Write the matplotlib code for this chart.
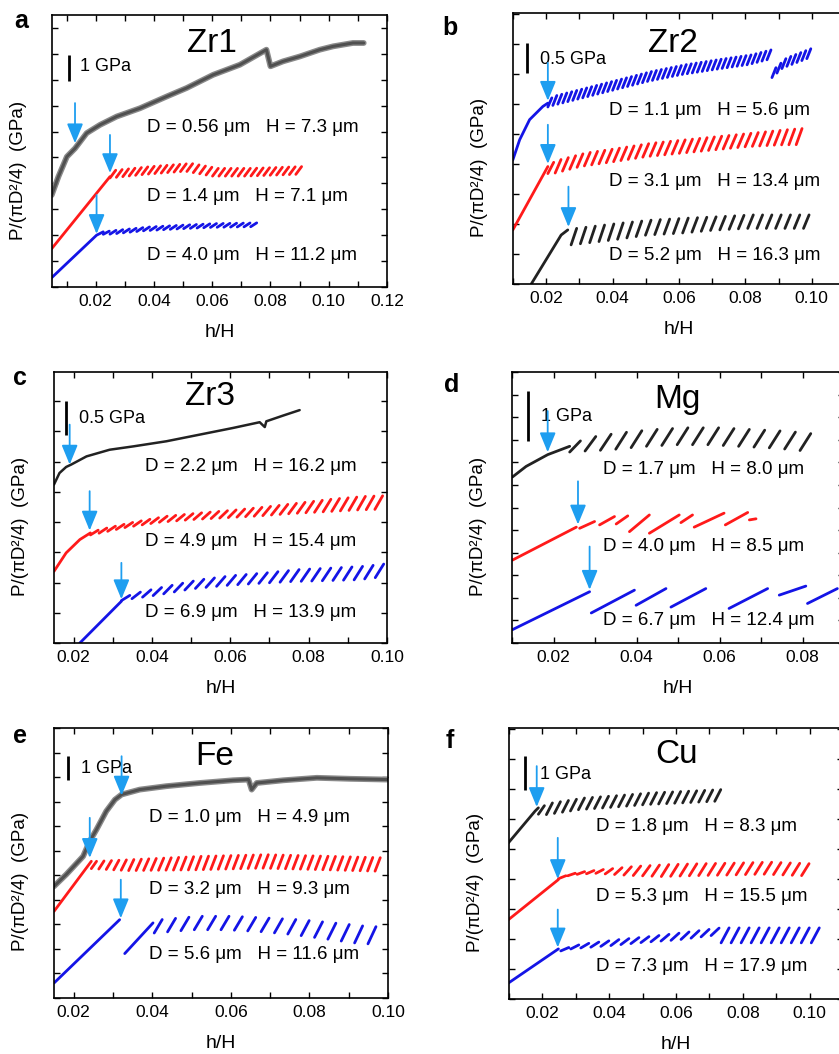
import numpy as np
import matplotlib
matplotlib.use("Agg")
import matplotlib.pyplot as plt
from matplotlib import transforms
from matplotlib.ticker import MultipleLocator, FormatStrFormatter

plt.rcParams['font.family'] = ['Liberation Sans', 'DejaVu Sans']

# x = h/H ; y = P/(pi D^2/4) with an arbitrary offset, in units of one y tick
# ---------------- a: Zr1 ----------------
zr1_k_x = [0.0049, 0.0072, 0.0101, 0.0129, 0.0169, 0.0215, 0.0272, 0.0352, 0.0443, 0.0512,
           0.0603, 0.0695, 0.0786, 0.0800, 0.0843, 0.0901, 0.0969, 0.1015, 0.1083, 0.1120]
zr1_k_y = [3.55, 4.26, 5.03, 5.35, 5.94, 6.26, 6.58, 6.90, 7.35, 7.68,
           8.19, 8.58, 9.16, 8.52, 8.71, 8.90, 9.16, 9.29, 9.42, 9.42]
zr1_r_el_x = [0.0049, 0.0249]
zr1_r_el_y = [1.48, 4.26]
zr1_r_env_x = [0.0249, 0.0262, 0.0390, 0.0528, 0.0620, 0.0734, 0.0912]
zr1_r_env_y = [4.32, 4.50, 4.65, 4.77, 4.58, 4.58, 4.65]
zr1_r_amp = [0.10, 0.30, 0.30, 0.30, 0.30, 0.30, 0.30]
zr1_b_el_x = [0.0049, 0.0203, 0.0226]
zr1_b_el_y = [0.36, 2.00, 2.13]
zr1_b_env_x = [0.0226, 0.0272, 0.0386, 0.0500, 0.0615, 0.0775]
zr1_b_env_y = [2.13, 2.19, 2.32, 2.39, 2.45, 2.48]
zr1_b_amp = [0.10, 0.15, 0.15, 0.15, 0.15, 0.15]
zr1_arrows = [(0.0129, 5.55, 7.10), (0.0249, 4.40, 5.87), (0.0203, 2.05, 3.55)]
zr1_labels = ["D = 0.56 μm   H = 7.3 μm", "D = 1.4 μm   H = 7.1 μm", "D = 4.0 μm   H = 11.2 μm"]

# ---------------- b: Zr2 ----------------
zr2_b_el_x = [0.00995, 0.0120, 0.0150, 0.0190, 0.0205]
zr2_b_el_y = [4.13, 4.80, 5.47, 5.91, 6.02]
zr2_b_env_x = [0.0205, 0.0220, 0.0320, 0.0420, 0.0520, 0.0620, 0.0720, 0.0820, 0.0880, 0.0885, 0.0924, 0.1004]
zr2_b_env_y = [6.02, 6.24, 6.52, 6.80, 7.08, 7.30, 7.47, 7.63, 7.80, 7.13, 7.52, 7.86]
zr2_b_amp = [0.20, 0.33, 0.33, 0.33, 0.33, 0.33, 0.33, 0.33, 0.33, 0.33, 0.33, 0.33]
zr2_r_el_x = [0.00995, 0.0205]
zr2_r_el_y = [1.80, 3.91]
zr2_r_env_x = [0.0205, 0.0240, 0.0320, 0.0420, 0.0520, 0.0620, 0.0720, 0.0820, 0.0920, 0.0989]
zr2_r_env_y = [3.97, 4.13, 4.36, 4.52, 4.69, 4.80, 4.91, 5.02, 5.13, 5.19]
zr2_r_amp = [0.30, 0.45, 0.45, 0.45, 0.45, 0.45, 0.45, 0.45, 0.50, 0.55]
zr2_k_el_x = [0.0155, 0.0245, 0.0265]
zr2_k_el_y = [0.00, 1.63, 1.80]
zr2_k_env_x = [0.0275, 0.0290, 0.0420, 0.0520, 0.0620, 0.0720, 0.0820, 0.0920, 0.1004]
zr2_k_env_y = [1.80, 1.85, 2.02, 2.13, 2.19, 2.24, 2.30, 2.30, 2.30]
zr2_k_amp = [0.50, 0.55, 0.55, 0.50, 0.50, 0.45, 0.45, 0.45, 0.45]
zr2_arrows = [(0.0205, 6.10, 7.36), (0.0205, 4.00, 5.30), (0.0267, 1.90, 3.24)]
zr2_labels = ["D = 1.1 μm   H = 5.6 μm", "D = 3.1 μm   H = 13.4 μm", "D = 5.2 μm   H = 16.3 μm"]

# ---------------- c: Zr3 ----------------
zr3_k_x = [0.0150, 0.0164, 0.0181, 0.0194, 0.0233, 0.0292, 0.0352, 0.0437, 0.0522, 0.0607,
           0.0675, 0.0688, 0.0692, 0.0735, 0.0777]
zr3_k_y = [5.24, 5.62, 5.82, 5.90, 6.17, 6.39, 6.50, 6.67, 6.89, 7.11,
           7.30, 7.14, 7.33, 7.52, 7.70]
zr3_r_el_x = [0.0150, 0.0181, 0.0216, 0.0243]
zr3_r_el_y = [2.37, 2.98, 3.42, 3.64]
zr3_r_env_x = [0.0243, 0.0267, 0.0352, 0.0437, 0.0522, 0.0607, 0.0692, 0.0777, 0.0862, 0.0947, 0.0998]
zr3_r_env_y = [3.64, 3.75, 3.99, 4.19, 4.30, 4.39, 4.50, 4.63, 4.76, 4.85, 4.87]
zr3_r_amp = [0.10, 0.17, 0.17, 0.20, 0.22, 0.25, 0.30, 0.35, 0.42, 0.45, 0.45]
zr3_b_el_x = [0.0216, 0.0322]
zr3_b_el_y = [0.00, 1.38]
zr3_b_env_x = [0.0322, 0.0352, 0.0437, 0.0522, 0.0607, 0.0692, 0.0777, 0.0862, 0.0947, 0.0998]
zr3_b_env_y = [1.43, 1.63, 1.87, 2.09, 2.23, 2.32, 2.43, 2.48, 2.54, 2.62]
zr3_b_amp = [0.10, 0.20, 0.28, 0.30, 0.33, 0.35, 0.40, 0.42, 0.45, 0.45]
zr3_arrows = [(0.0190, 5.90, 7.22), (0.0241, 3.72, 5.02), (0.0322, 1.45, 2.65)]
zr3_labels = ["D = 2.2 μm   H = 16.2 μm", "D = 4.9 μm   H = 15.4 μm", "D = 6.9 μm   H = 13.9 μm"]

# ---------------- d: Mg ----------------
mg_k_el_x = [0.0101, 0.0134, 0.0186, 0.0239]
mg_k_el_y = [7.35, 7.82, 8.34, 8.71]
mg_k_env_x = [0.0239, 0.0279, 0.0359, 0.0440, 0.0520, 0.0600, 0.0680, 0.0760, 0.0844]
mg_k_env_y = [8.71, 9.08, 9.30, 9.45, 9.53, 9.53, 9.45, 9.38, 9.23]
mg_k_amp = [0.30, 0.60, 0.75, 0.75, 0.75, 0.75, 0.75, 0.75, 0.75]
mg_r_el_x = [0.0101, 0.0255]
mg_r_el_y = [3.67, 5.13]
mg_r_x0 = [0.0263, 0.0311, 0.0351, 0.0383, 0.0431, 0.0507, 0.0539, 0.0614, 0.0672]
mg_r_x1 = [0.0299, 0.0347, 0.0379, 0.0431, 0.0503, 0.0535, 0.0611, 0.0668, 0.0688]
mg_r_y0 = [5.08, 5.23, 5.27, 4.93, 4.86, 5.33, 5.13, 5.23, 5.45]
mg_r_y1 = [5.38, 5.60, 5.63, 5.67, 5.67, 5.67, 5.75, 5.78, 5.50]
mg_b_el_x = [0.0101, 0.0287]
mg_b_el_y = [0.59, 2.27]
mg_b_x0 = [0.0291, 0.0399, 0.0483, 0.0623, 0.0744, 0.0812]
mg_b_x1 = [0.0395, 0.0471, 0.0567, 0.0716, 0.0808, 0.0884]
mg_b_y0 = [1.33, 1.67, 1.59, 1.53, 2.12, 1.75]
mg_b_y1 = [2.34, 2.41, 2.41, 2.41, 2.52, 2.41]
mg_arrows = [(0.0186, 8.45, 10.27), (0.0259, 5.25, 7.16), (0.0287, 2.36, 4.27)]
mg_labels = ["D = 1.7 μm   H = 8.0 μm", "D = 4.0 μm   H = 8.5 μm", "D = 6.7 μm   H = 12.4 μm"]

# ---------------- e: Fe ----------------
fe_k_x = [0.0150, 0.0181, 0.0224, 0.0241, 0.0258, 0.0283, 0.0305, 0.0322, 0.0368, 0.0436,
          0.0521, 0.0606, 0.0645, 0.0653, 0.0666, 0.0734, 0.0819, 0.0904, 0.0997]
fe_k_y = [4.55, 5.03, 5.77, 6.39, 6.86, 7.61, 8.08, 8.29, 8.49, 8.63,
          8.76, 8.87, 8.90, 8.49, 8.76, 8.87, 8.97, 8.93, 8.90]
fe_r_el_x = [0.0150, 0.0245]
fe_r_el_y = [3.53, 5.57]
fe_r_env_x = [0.0245, 0.0258, 0.0351, 0.0521, 0.0691, 0.0861, 0.0997]
fe_r_env_y = [5.60, 5.57, 5.64, 5.77, 5.84, 5.77, 5.71]
fe_r_amp = [0.20, 0.30, 0.45, 0.55, 0.55, 0.55, 0.55]
fe_b_el_x = [0.0150, 0.0317]
fe_b_el_y = [0.61, 3.19]
fe_b_d1_x = [0.0330, 0.0402]
fe_b_d1_y = [1.81, 3.06]
fe_b_env_x = [0.0405, 0.0420, 0.0521, 0.0606, 0.0691, 0.0776, 0.0861, 0.0946, 0.0997]
fe_b_env_y = [3.10, 3.19, 3.33, 3.33, 3.26, 3.19, 3.06, 2.92, 2.89]
fe_b_amp = [0.40, 0.55, 0.55, 0.55, 0.55, 0.60, 0.65, 0.70, 0.70]
fe_arrows = [(0.0322, 8.25, 9.85), (0.0241, 5.71, 7.34), (0.0320, 3.25, 4.82)]
fe_labels = ["D = 1.0 μm   H = 4.9 μm", "D = 3.2 μm   H = 9.3 μm", "D = 5.6 μm   H = 11.6 μm"]

# ---------------- f: Cu ----------------
cu_k_el_x = [0.0098, 0.0178, 0.0188]
cu_k_el_y = [5.20, 6.26, 6.37]
cu_k_env_x = [0.0188, 0.0228, 0.0328, 0.0429, 0.0529, 0.0629, 0.0739]
cu_k_env_y = [6.37, 6.53, 6.70, 6.78, 6.87, 6.92, 6.98]
cu_k_amp = [0.20, 0.39, 0.39, 0.39, 0.39, 0.39, 0.39]
cu_r_el_x = [0.0098, 0.0248]
cu_r_el_y = [2.64, 3.98]
cu_r_env_x = [0.0248, 0.0268, 0.0308, 0.0378, 0.0479, 0.0579, 0.0679, 0.0779, 0.0880, 0.1000]
cu_r_env_y = [3.98, 4.10, 4.22, 4.31, 4.42, 4.48, 4.51, 4.53, 4.56, 4.51]
cu_r_amp = [0.10, 0.10, 0.08, 0.12, 0.30, 0.40, 0.40, 0.40, 0.40, 0.40]
cu_b_el_x = [0.0098, 0.0248]
cu_b_el_y = [0.53, 1.67]
cu_b_env_x = [0.0255, 0.0288, 0.0328, 0.0429, 0.0529, 0.0629, 0.0734, 0.0744, 0.0850, 0.0950, 0.1055]
cu_b_env_y = [1.60, 1.76, 1.84, 1.98, 2.09, 2.22, 2.37, 2.37, 2.37, 2.37, 2.37]
cu_b_amp = [0.10, 0.12, 0.15, 0.20, 0.20, 0.25, 0.25, 0.50, 0.50, 0.50, 0.50]
cu_arrows = [(0.0183, 6.40, 7.76), (0.0246, 4.00, 5.37), (0.0246, 1.72, 2.98)]
cu_labels = ["D = 1.8 μm   H = 8.3 μm", "D = 5.3 μm   H = 15.5 μm", "D = 7.3 μm   H = 17.9 μm"]

RED = '#ff1a1a'
BLUE = '#1414e6'
BLACK = '#222222'
BAND = '#505050'
ARROW = '#1e9ef0'
W, H = 839, 1054


def teeth(env_x, env_y, amp, period, frac):
    # slanted serration segments that follow the read tooth-top envelope
    xs, ys = [], []
    for s in np.arange(env_x[0], env_x[-1] - frac * period + 1e-9, period):
        e = s + frac * period
        top = np.interp(e, env_x, env_y)
        a = np.interp(e, env_x, amp)
        xs += [s, e, np.nan]
        ys += [top - a, top, np.nan]
    return xs, ys


def dashes(x0, x1, y0, y1):
    xs, ys = [], []
    for a, b, c, d in zip(x0, x1, y0, y1):
        xs += [a, b, np.nan]
        ys += [c, d, np.nan]
    return xs, ys


fig = plt.figure(figsize=(W / 100, H / 100), dpi=100)


def make_axes(px_left, px_top, px_right, px_bottom, xlim, ylim):
    ax = fig.add_axes([px_left / W, 1 - px_bottom / H, (px_right - px_left) / W, (px_bottom - px_top) / H])
    ax.set_xlim(*xlim)
    ax.set_ylim(*ylim)
    ax.xaxis.set_major_locator(MultipleLocator(0.02))
    ax.xaxis.set_minor_locator(MultipleLocator(0.01))
    ax.xaxis.set_major_formatter(FormatStrFormatter('%.2f'))
    ax.yaxis.set_major_locator(MultipleLocator(1))
    ax.tick_params(which='both', direction='in', top=True, right=True, length=4, width=1.0,
                   labelsize=12.5, pad=5, labelleft=False)
    for sp in ax.spines.values():
        sp.set_linewidth(1.2)
    ax.set_xlabel('h/H', fontsize=14, labelpad=11)
    ax.set_ylabel('P/(πD²/4)  (GPa)', fontsize=13.5)
    ax.yaxis.set_label_coords(-0.075, 0.43)
    return ax


def decorate(ax, title, title_xy, bar_fx, bar_top, bar_len, bar_text, bar_text_xy,
             label_fx, label_fy, labels, arrows):
    ax.text(title_xy[0], title_xy[1], title, transform=ax.transAxes, fontsize=24,
            ha='center', va='center')
    tr = transforms.blended_transform_factory(ax.transAxes, ax.transData)
    ax.plot([bar_fx, bar_fx], [bar_top, bar_top - bar_len], color='black', lw=2.0,
            transform=tr, solid_capstyle='butt')
    ax.text(bar_text_xy[0], bar_text_xy[1], bar_text, transform=ax.transAxes, fontsize=13,
            ha='left', va='center')
    for lab, fy in zip(labels, label_fy):
        ax.text(label_fx, fy, lab, transform=ax.transAxes, fontsize=13.5, ha='left', va='center')
    for tx, ty, tail in arrows:
        ax.annotate('', xy=(tx, ty), xytext=(tx, tail),
                    arrowprops=dict(arrowstyle='-|>,head_length=0.85,head_width=0.35',
                                    mutation_scale=14, color=ARROW, lw=1.3,
                                    shrinkA=0, shrinkB=0), zorder=5)


def line(ax, x, y, color, lw=2.0):
    ax.plot(x, y, color=color, lw=lw, solid_capstyle='round')


def band(ax, x, y):
    # scattered-marker band drawn as a wide grey stroke with a darker core
    ax.plot(x, y, color='#8a8a8a', lw=4.2, solid_capstyle='round')
    ax.plot(x, y, color=BAND, lw=2.2, solid_capstyle='round')


def letter(px, py, s):
    fig.text(px / W, 1 - py / H, s, fontsize=18, fontweight='bold', ha='center', va='baseline')


# ---- a ----
ax = make_axes(52, 15, 387, 287, (0.005, 0.12), (0, 10.5))
band(ax, zr1_k_x, zr1_k_y)
line(ax, zr1_r_el_x, zr1_r_el_y, RED)
line(ax, *teeth(zr1_r_env_x, zr1_r_env_y, zr1_r_amp, 0.0022, 0.9), RED)
line(ax, zr1_b_el_x, zr1_b_el_y, BLUE)
line(ax, *teeth(zr1_b_env_x, zr1_b_env_y, zr1_b_amp, 0.0023, 0.9), BLUE)
decorate(ax, 'Zr1', (0.478, 0.896), 0.05, 8.97, 1.0, '1 GPa', (0.085, 0.81),
         0.284, [0.585, 0.331, 0.117], zr1_labels, zr1_arrows)
letter(21, 28, 'a')

# ---- b ----
ax = make_axes(513, 13, 845, 284, (0.01, 0.11), (0, 9.02))
line(ax, zr2_b_el_x, zr2_b_el_y, BLUE)
line(ax, *teeth(zr2_b_env_x, zr2_b_env_y, zr2_b_amp, 0.0015, 0.8), BLUE)
line(ax, zr2_r_el_x, zr2_r_el_y, RED)
line(ax, *teeth(zr2_r_env_x, zr2_r_env_y, zr2_r_amp, 0.0022, 0.8), RED)
line(ax, zr2_k_el_x, zr2_k_el_y, BLACK)
line(ax, *teeth(zr2_k_env_x, zr2_k_env_y, zr2_k_amp, 0.0028, 0.6), BLACK)
decorate(ax, 'Zr2', (0.483, 0.889), 0.042, 8.02, 1.0, '0.5 GPa', (0.08, 0.83),
         0.288, [0.639, 0.378, 0.107], zr2_labels, zr2_arrows)
letter(450, 35, 'b')

# ---- c ----
ax = make_axes(54, 372, 387, 643, (0.015, 0.10), (0, 8.96))
line(ax, zr3_k_x, zr3_k_y, BLACK, lw=1.8)
line(ax, zr3_r_el_x, zr3_r_el_y, RED)
line(ax, *teeth(zr3_r_env_x, zr3_r_env_y, zr3_r_amp, 0.0022, 0.9), RED)
line(ax, zr3_b_el_x, zr3_b_el_y, BLUE)
line(ax, *teeth(zr3_b_env_x, zr3_b_env_y, zr3_b_amp, 0.0027, 0.8), BLUE)
decorate(ax, 'Zr3', (0.467, 0.91), 0.037, 7.99, 1.1, '0.5 GPa', (0.074, 0.828),
         0.274, [0.652, 0.375, 0.113], zr3_labels, zr3_arrows)
letter(20, 385, 'c')

# ---- d ----
ax = make_axes(512, 372, 844, 643, (0.01, 0.09), (0, 12.0))
line(ax, mg_k_el_x, mg_k_el_y, BLACK)
line(ax, *teeth(mg_k_env_x, mg_k_env_y, mg_k_amp, 0.0037, 0.7), BLACK)
line(ax, mg_r_el_x, mg_r_el_y, RED)
line(ax, *dashes(mg_r_x0, mg_r_x1, mg_r_y0, mg_r_y1), RED)
line(ax, mg_b_el_x, mg_b_el_y, BLUE)
line(ax, *dashes(mg_b_x0, mg_b_x1, mg_b_y0, mg_b_y1), BLUE)
decorate(ax, 'Mg', (0.497, 0.898), 0.047, 11.16, 2.22, '1 GPa', (0.087, 0.834),
         0.274, [0.639, 0.355, 0.084], mg_labels, mg_arrows)
letter(452, 392, 'd')

# ---- e ----
ax = make_axes(54, 728, 388, 998, (0.015, 0.10), (0, 11.0))
band(ax, fe_k_x, fe_k_y)
line(ax, fe_r_el_x, fe_r_el_y, RED)
line(ax, *teeth(fe_r_env_x, fe_r_env_y, fe_r_amp, 0.0019, 0.7), RED)
line(ax, fe_b_el_x, fe_b_el_y, BLUE)
line(ax, fe_b_d1_x, fe_b_d1_y, BLUE)
line(ax, *teeth(fe_b_env_x, fe_b_env_y, fe_b_amp, 0.0034, 0.6), BLUE)
decorate(ax, 'Fe', (0.482, 0.895), 0.042, 9.85, 0.95, '1 GPa', (0.082, 0.849),
         0.284, [0.67, 0.401, 0.16], fe_labels, fe_arrows)
letter(20, 743, 'e')

# ---- f ----
ax = make_axes(509, 728, 843, 999, (0.01, 0.11), (0, 9.03))
line(ax, cu_k_el_x, cu_k_el_y, BLACK)
line(ax, *teeth(cu_k_env_x, cu_k_env_y, cu_k_amp, 0.0024, 0.75), BLACK)
line(ax, cu_r_el_x, cu_r_el_y, RED)
line(ax, *teeth(cu_r_env_x, cu_r_env_y, cu_r_amp, 0.0028, 0.8), RED)
line(ax, cu_b_el_x, cu_b_el_y, BLUE)
line(ax, *teeth(cu_b_env_x, cu_b_env_y, cu_b_amp, 0.0030, 0.8), BLUE)
decorate(ax, 'Cu', (0.501, 0.902), 0.047, 8.09, 1.11, '1 GPa', (0.092, 0.828),
         0.261, [0.637, 0.379, 0.121], cu_labels, cu_arrows)
letter(450, 748, 'f')

fig.savefig('out.png', dpi=100)
